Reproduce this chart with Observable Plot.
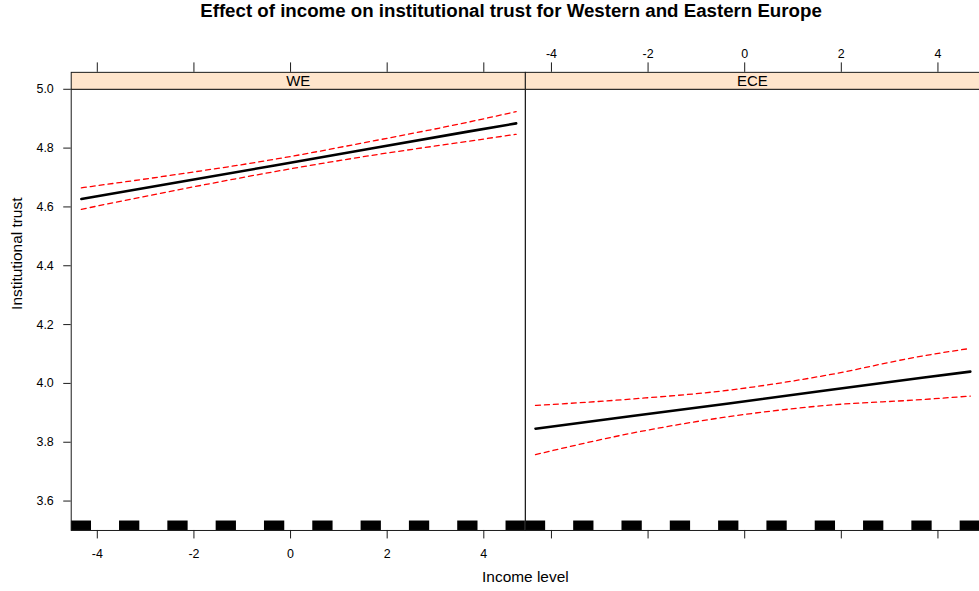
<!DOCTYPE html>
<html><head><meta charset="utf-8">
<script src="https://cdn.jsdelivr.net/npm/d3@7"></script>
<script src="https://cdn.jsdelivr.net/npm/@observablehq/plot@0.6"></script>
<style>
html,body{margin:0;padding:0;overflow:hidden;background:#fff;}
#title{height:36px;line-height:36px;width:1022px;text-align:center;font:bold 18.7px "Liberation Sans",Arial,sans-serif;color:#000;white-space:nowrap;}
#chart svg{display:block;}
</style></head><body>
<div id="title">Effect of income on institutional trust for Western and Eastern Europe</div>
<div id="chart"></div>
<script>
// ---- data ----
const panels = ["WE", "ECE"];
const incomeX = [-4.33, -2.33, -0.33, 1.67, 3.67, 4.67];
const weFit   = [4.627, 4.684, 4.741, 4.799, 4.856, 4.884];
const weUpper = [4.665, 4.711, 4.762, 4.823, 4.888, 4.924];
const weLower = [4.592, 4.658, 4.720, 4.775, 4.823, 4.847];
const eceFit   = [3.846, 3.889, 3.932, 3.976, 4.019, 4.040];
const eceUpper = [3.925, 3.947, 3.977, 4.027, 4.093, 4.119];
const eceLower = [3.758, 3.831, 3.887, 3.925, 3.945, 3.957];
const rugLevels = [-4.33, -3.33, -2.33, -1.33, -0.33, 0.67, 1.67, 2.67, 3.67, 4.67];
const xTicks = [-4, -2, 0, 2, 4];
const yTicks = [3.6, 3.8, 4.0, 4.2, 4.4, 4.6, 4.8, 5.0];
const xLabel = "Income level";
const yLabel = "Institutional trust";

// ---- tables built from the arrays ----
const series = {WE: [weFit, weUpper, weLower], ECE: [eceFit, eceUpper, eceLower]};
const rows = [];
for (const p of panels) {
  const [f, u, l] = series[p];
  incomeX.forEach((x, i) => rows.push({panel: p, x, fit: f[i], upper: u[i], lower: l[i]}));
}
const panelRows = panels.map(p => ({panel: p}));
const tickRows = panels.flatMap(p => xTicks.map(v => ({panel: p, v})));

const W = 983, H = 555, mT = 53, mB = 59, mL = 71;
const frameH = H - mT - mB;
const stripH = 17;
const ink = "#1a1a1a";

const chart = Plot.plot({
  width: W, height: H,
  marginTop: mT, marginBottom: mB, marginLeft: mL, marginRight: 0,
  style: {fontFamily: "'Liberation Sans', Arial, sans-serif", fontSize: "12.5px", color: "#000", background: "white", overflow: "visible"},
  fx: {domain: panels, padding: 0, axis: null},
  x: {domain: [-4.54, 4.86], axis: null},
  y: {domain: [3.5, 5.0]},
  marks: [
    Plot.rect(rugLevels, {x1: d => d - 0.21, x2: d => d + 0.21, insetTop: frameH - 9.5, fill: "black", clip: "frame"}),
    Plot.line(rows, {x: "x", y: "upper", fx: "panel", stroke: "red", strokeWidth: 1.3, strokeDasharray: "5,4", curve: "monotone-x"}),
    Plot.line(rows, {x: "x", y: "lower", fx: "panel", stroke: "red", strokeWidth: 1.3, strokeDasharray: "5,4", curve: "monotone-x"}),
    Plot.line(rows, {x: "x", y: "fit", fx: "panel", stroke: "black", strokeWidth: 2.6}),
    Plot.frame({stroke: ink, strokeWidth: 1}),
    Plot.frame({fill: "#ffe5cc", stroke: ink, strokeWidth: 1, insetTop: -stripH, insetBottom: frameH}),
    Plot.text(panelRows, {fx: "panel", text: "panel", frameAnchor: "top", lineAnchor: "middle", dy: -stripH / 2, fontSize: 15, fill: "#000"}),
    Plot.axisY(yTicks, {anchor: "left", tickSize: 7.5, tickPadding: 10, tickFormat: d3.format(".1f"), fontSize: 12.5, stroke: ink, label: null}),
    // x ticks: top (above strip) and bottom for every panel
    Plot.tickX(tickRows, {x: "v", fx: "panel", insetTop: -(stripH + 9.5), insetBottom: frameH + stripH, stroke: ink}),
    Plot.tickX(tickRows, {x: "v", fx: "panel", insetTop: frameH, insetBottom: -8.5, stroke: ink}),
    // tick labels: bottom for WE, top for ECE (lattice alternation)
    Plot.text(tickRows.filter(d => d.panel === "WE"), {x: "v", fx: "panel", text: d => String(d.v), frameAnchor: "bottom", lineAnchor: "middle", dy: 23.5, fontSize: 12.5, fill: "#000"}),
    Plot.text(tickRows.filter(d => d.panel === "ECE"), {x: "v", fx: "panel", text: d => String(d.v), frameAnchor: "top", lineAnchor: "middle", dy: -35.7, fontSize: 12.5, fill: "#000"}),
    // axis titles
    Plot.text([{panel: "ECE", t: xLabel}], {fx: "panel", text: "t", frameAnchor: "bottom-left", textAnchor: "middle", lineAnchor: "middle", dy: 47, fontSize: 15.5, fill: "#000"}),
    Plot.text([{panel: "WE", t: yLabel}], {fx: "panel", text: "t", frameAnchor: "left", lineAnchor: "middle", rotate: -90, dx: -54, fontSize: 15.5, fill: "#000"})
  ]
});
document.getElementById("chart").appendChild(chart);
</script>
</body></html>
